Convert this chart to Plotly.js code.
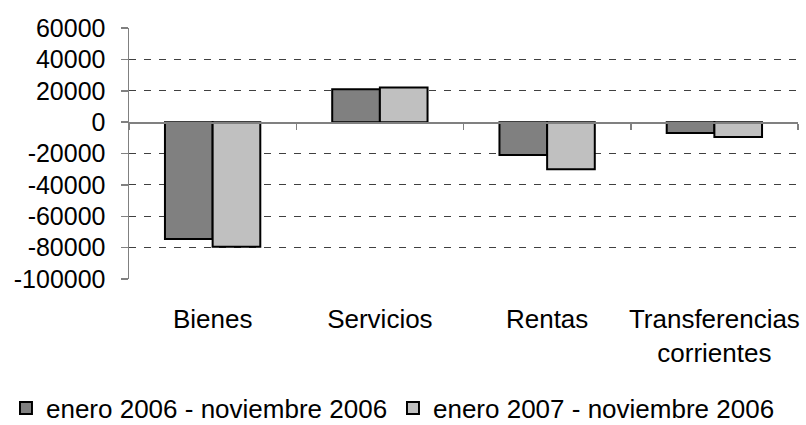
<!DOCTYPE html>
<html>
<head>
<meta charset="utf-8">
<script src="https://cdn.plot.ly/plotly-3.0.1.min.js"></script>
<style>html,body{margin:0;padding:0;background:#fff;}#chart{width:806px;height:425px;}</style>
</head>
<body>
<div id="chart"></div>
<script>
var categories = ['Bienes', 'Servicios', 'Rentas', 'Transferencias<br>corrientes'];
var seriesNames = ['enero 2006 - noviembre 2006', 'enero 2007 - noviembre 2006'];
var series2006 = [-74500, 21000, -21000, -7000];
var series2007 = [-79500, 22000, -30000, -9500];
var yTicks = [-100000, -80000, -60000, -40000, -20000, 0, 20000, 40000, 60000];

var family = 'Liberation Sans, Arial, sans-serif';
var tickFont = {family: family, size: 25, color: '#000'};
var catFont = {family: family, size: 26, color: '#000'};

var data = [
  {type: 'bar', x: categories, y: series2006, name: seriesNames[0],
   marker: {color: '#808080', line: {color: '#000', width: 2}}},
  {type: 'bar', x: categories, y: series2007, name: seriesNames[1],
   marker: {color: '#c0c0c0', line: {color: '#000', width: 2}}},
  {type: 'scatter', x: [-0.5, 3.5], y: [0, 0], xaxis: 'x2', mode: 'lines',
   line: {color: 'rgba(0,0,0,0)'}, showlegend: false, hoverinfo: 'skip'}
];

var layout = {
  width: 806, height: 425,
  margin: {l: 129, r: 8, t: 28, b: 146, autoexpand: false},
  paper_bgcolor: '#fff', plot_bgcolor: '#fff',
  font: tickFont,
  barmode: 'group',
  bargap: 0.43,
  bargroupgap: 0,
  showlegend: true,
  legend: {orientation: 'h', x: -0.1839, xanchor: 'left',
           y: -0.514, yanchor: 'middle', font: catFont, itemwidth: 30, traceorder: 'normal',
           entrywidth: 342, entrywidthmode: 'pixels', tracegroupgap: 0},
  xaxis: {type: 'category', showline: false, showgrid: false, zeroline: false, ticks: '',
          tickfont: catFont, ticklabelstandoff: 22},
  xaxis2: {overlaying: 'x', anchor: 'free', position: 0.625, range: [-0.5, 3.5],
           tickvals: [-0.5, 0.5, 1.5, 2.5, 3.5], showticklabels: false, ticks: 'outside',
           ticklen: 6, tickcolor: '#808080', tickwidth: 1.5, showline: true, linecolor: '#808080',
           linewidth: 1.5, showgrid: false, zeroline: false},
  yaxis: {range: [-100000, 60000], tickvals: yTicks, ticktext: yTicks.map(String),
          showline: true, linecolor: '#808080', linewidth: 1.5, ticks: 'outside', ticklen: 7,
          tickcolor: '#808080', tickwidth: 1.5, ticklabelstandoff: 10,
          showgrid: true, gridcolor: '#404040', gridwidth: 1, griddash: '7px,8px',
          zeroline: false, tickfont: tickFont}
};

Plotly.newPlot('chart', data, layout, {displayModeBar: false, staticPlot: true});
</script>
</body>
</html>
